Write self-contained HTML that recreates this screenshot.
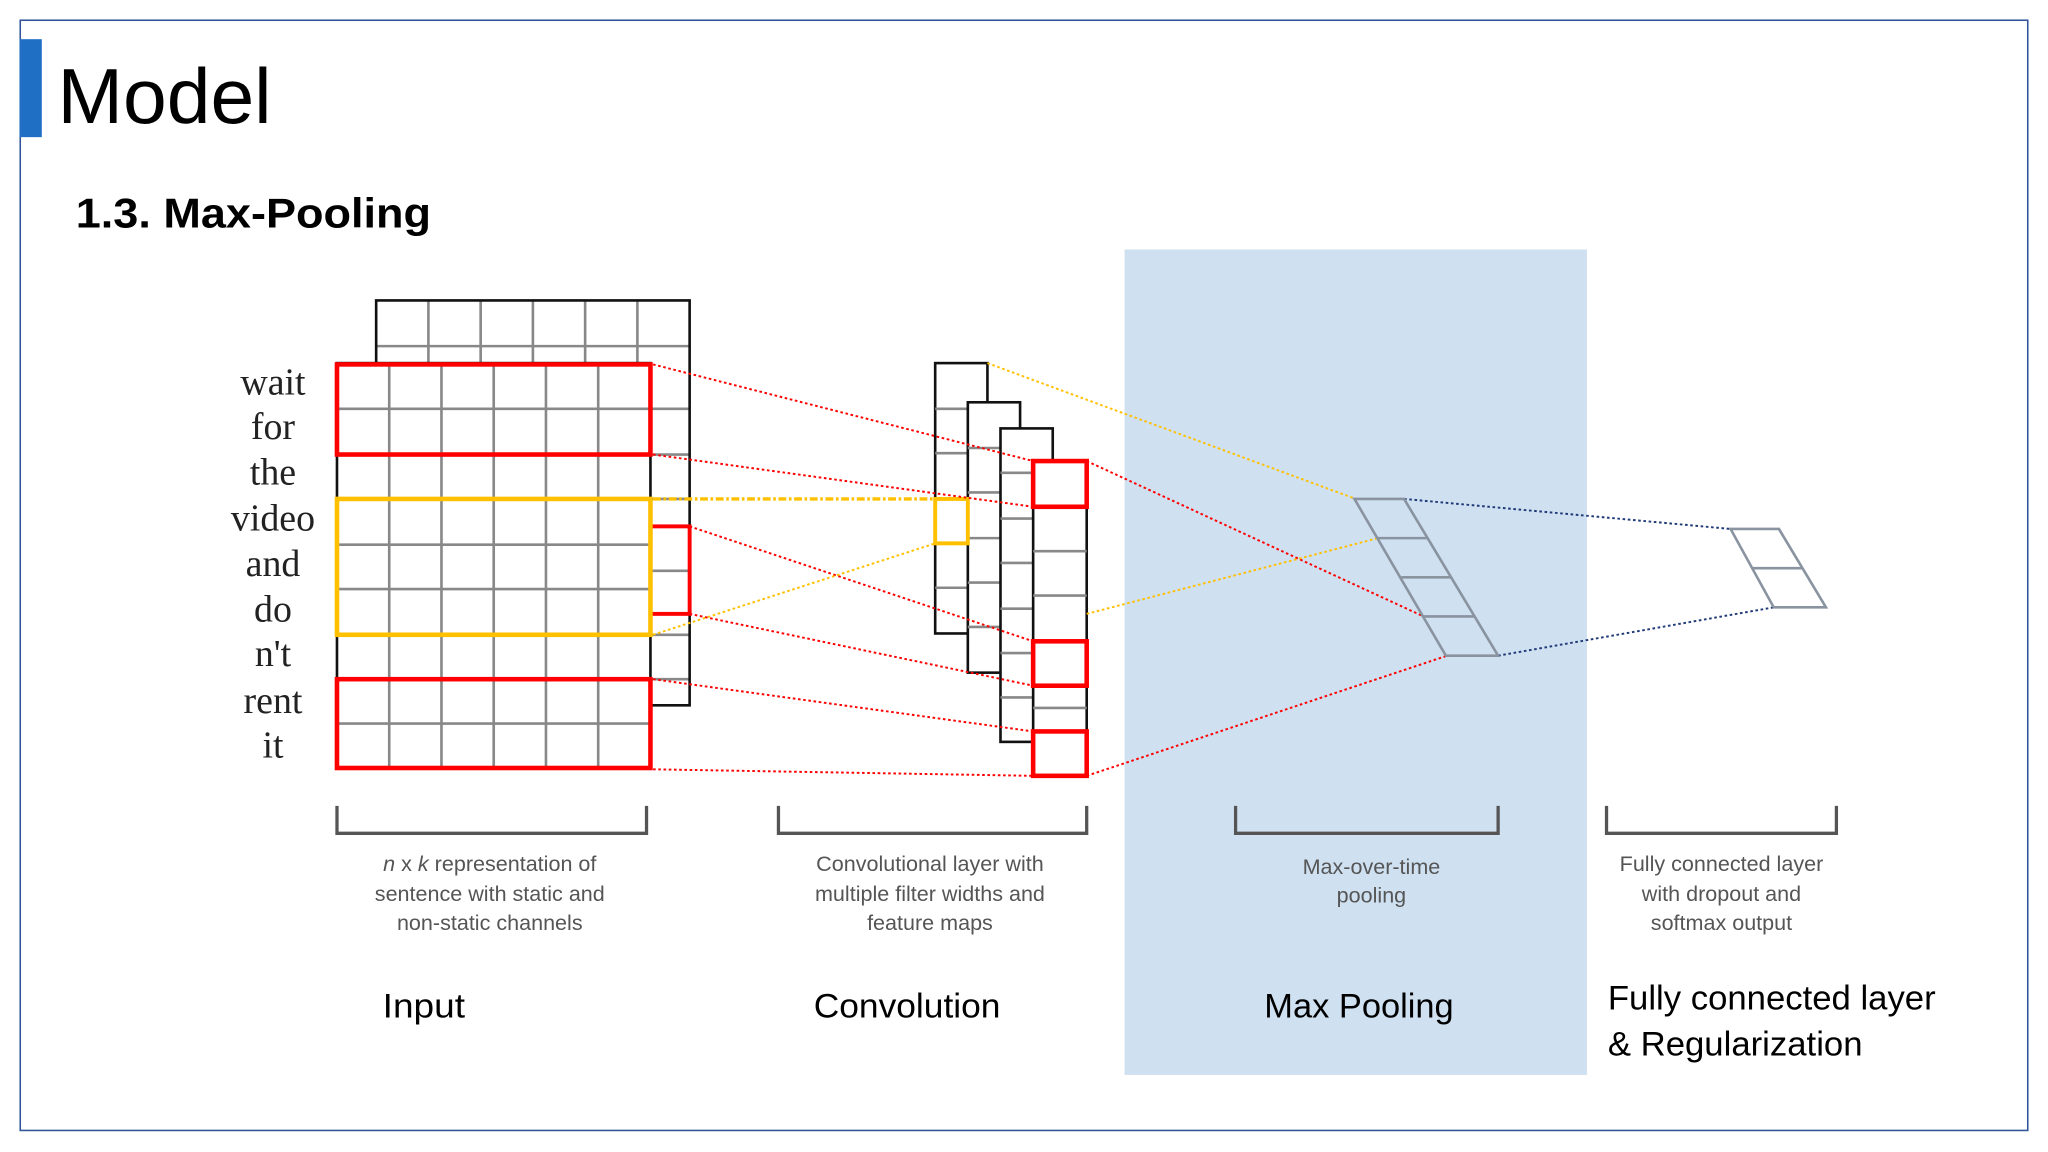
<!DOCTYPE html>
<html><head><meta charset="utf-8"><style>
html,body{margin:0;padding:0;background:#fff;}
svg{display:block;}
</style></head><body>
<svg width="2048" height="1152" viewBox="0 0 1568 882" xmlns="http://www.w3.org/2000/svg">
<rect x="0" y="0" width="1568" height="882" fill="#fff"/>
<rect x="15.5" y="15.5" width="1537" height="850" fill="none" stroke="#2f5597" stroke-width="1.2"/>
<rect x="15" y="30" width="17" height="75" fill="#1f6fc5"/>
<text x="44" y="94" font-family="Liberation Sans, sans-serif" font-size="60" fill="#000" textLength="164" lengthAdjust="spacingAndGlyphs">Model</text>
<text x="58" y="174" font-family="Liberation Sans, sans-serif" font-size="32" font-weight="bold" fill="#000" textLength="272" lengthAdjust="spacingAndGlyphs">1.3. Max-Pooling</text>
<rect x="861" y="191" width="354" height="632" fill="#cfe0f1"/>

<!-- back grid -->
<g stroke="#888" stroke-width="2" fill="none">
  <line x1="328" y1="230" x2="328" y2="278"/><line x1="368" y1="230" x2="368" y2="278"/>
  <line x1="408" y1="230" x2="408" y2="278"/><line x1="448" y1="230" x2="448" y2="278"/>
  <line x1="488" y1="230" x2="488" y2="278"/>
  <line x1="288" y1="265" x2="528" y2="265"/>
  <line x1="498" y1="313" x2="528" y2="313"/><line x1="498" y1="348" x2="528" y2="348"/>
  <line x1="498" y1="382" x2="528" y2="382"/><line x1="498" y1="437" x2="528" y2="437"/>
  <line x1="498" y1="486" x2="528" y2="486"/><line x1="498" y1="520" x2="528" y2="520"/>
</g>
<path d="M288 278 V230 H528 V540 H498" fill="none" stroke="#111" stroke-width="2"/>
<!-- front grid -->
<g stroke="#888" stroke-width="2">
  <line x1="298" y1="278" x2="298" y2="588"/><line x1="338" y1="278" x2="338" y2="588"/>
  <line x1="378" y1="278" x2="378" y2="588"/><line x1="418" y1="278" x2="418" y2="588"/>
  <line x1="458" y1="278" x2="458" y2="588"/>
  <line x1="258" y1="313" x2="498" y2="313"/><line x1="258" y1="417" x2="498" y2="417"/>
  <line x1="258" y1="451" x2="498" y2="451"/><line x1="258" y1="554" x2="498" y2="554"/>
</g>
<rect x="258" y="278" width="240" height="310" fill="none" stroke="#111" stroke-width="2"/>
<rect x="498" y="403" width="30" height="67" fill="none" stroke="#f00" stroke-width="3"/>
<rect x="258" y="279" width="240" height="69" fill="none" stroke="#f00" stroke-width="3.5"/>
<rect x="258" y="520" width="240" height="68" fill="none" stroke="#f00" stroke-width="3.5"/>
<rect x="258" y="382" width="240" height="104" fill="none" stroke="#ffc000" stroke-width="3.5"/>

<!-- words -->
<g font-family="Liberation Serif, serif" font-size="29" fill="#222" text-anchor="middle">
  <text x="209" y="302">wait</text><text x="209" y="336">for</text><text x="209" y="371">the</text>
  <text x="209" y="406">video</text><text x="209" y="441">and</text><text x="209" y="476">do</text>
  <text x="209" y="510">n't</text><text x="209" y="546">rent</text><text x="209" y="580">it</text>
</g>

<!-- conv maps -->
<rect x="716" y="278" width="40" height="207" fill="#fff" stroke="#111" stroke-width="2"/>
<g stroke="#888" stroke-width="2">
  <line x1="716" y1="313" x2="741" y2="313"/><line x1="716" y1="347" x2="741" y2="347"/>
  <line x1="716" y1="450" x2="741" y2="450"/>
</g>
<rect x="741" y="308" width="40" height="207" fill="#fff" stroke="#111" stroke-width="2"/>
<g stroke="#888" stroke-width="2">
  <line x1="741" y1="343" x2="766" y2="343"/><line x1="741" y1="377" x2="766" y2="377"/>
  <line x1="741" y1="412" x2="766" y2="412"/><line x1="741" y1="446" x2="766" y2="446"/>
  <line x1="741" y1="480" x2="766" y2="480"/>
</g>
<rect x="766" y="328" width="40" height="240" fill="#fff" stroke="#111" stroke-width="2"/>
<g stroke="#888" stroke-width="2">
  <line x1="766" y1="362" x2="791" y2="362"/><line x1="766" y1="397" x2="791" y2="397"/>
  <line x1="766" y1="431" x2="791" y2="431"/><line x1="766" y1="466" x2="791" y2="466"/>
  <line x1="766" y1="500" x2="791" y2="500"/><line x1="766" y1="534" x2="791" y2="534"/>
</g>
<rect x="791" y="353" width="41" height="241" fill="#fff" stroke="#111" stroke-width="2"/>
<g stroke="#888" stroke-width="2">
  <line x1="791" y1="422" x2="832" y2="422"/><line x1="791" y1="456" x2="832" y2="456"/>
  <line x1="791" y1="542" x2="832" y2="542"/>
</g>
<rect x="716" y="382" width="25" height="34" fill="none" stroke="#ffc000" stroke-width="3"/>
<g fill="none" stroke="#f00" stroke-width="3.5">
  <rect x="791" y="353" width="41" height="35"/>
  <rect x="791" y="491" width="41" height="34"/>
  <rect x="791" y="560" width="41" height="34"/>
</g>

<!-- dotted connectors -->
<g stroke="#f00" stroke-width="1.5" stroke-dasharray="2,2" fill="none">
  <line x1="500" y1="279" x2="791" y2="353"/>
  <line x1="500" y1="348" x2="791" y2="388"/>
  <line x1="528" y1="403" x2="791" y2="491"/>
  <line x1="528" y1="470" x2="791" y2="525"/>
  <line x1="500" y1="520" x2="791" y2="560"/>
  <line x1="500" y1="589" x2="791" y2="594"/>
  <line x1="832" y1="353" x2="1090" y2="472"/>
  <line x1="832" y1="594" x2="1108" y2="502"/>
</g>
<g stroke="#ffc000" stroke-width="1.5" stroke-dasharray="2,2" fill="none">
  <line x1="500" y1="382" x2="741" y2="382" stroke-width="2.5" stroke-dasharray="6,2,2,2"/>
  <line x1="500" y1="486" x2="716" y2="416"/>
  <line x1="756" y1="278" x2="1038" y2="382"/>
  <line x1="832" y1="470" x2="1055" y2="412"/>
</g>
<g stroke="#203a78" stroke-width="1.5" stroke-dasharray="2,2" fill="none">
  <line x1="1075" y1="382" x2="1325" y2="405"/>
  <line x1="1147" y1="502" x2="1358" y2="465"/>
</g>

<!-- pooling -->
<g stroke="#8a93a0" stroke-width="2" fill="none">
  <path d="M1037 382 H1075 L1147 502 H1107 Z"/>
  <line x1="1055" y1="412" x2="1093" y2="412"/>
  <line x1="1073" y1="442" x2="1111" y2="442"/>
  <line x1="1090" y1="472" x2="1129" y2="472"/>
  <path d="M1325 405 H1362 L1398 465 H1358 Z"/>
  <line x1="1342" y1="435" x2="1380" y2="435"/>
</g>

<!-- brackets -->
<g stroke="#555" stroke-width="2.5" fill="none">
  <path d="M258 617 V638 H495 V617"/>
  <path d="M596 617 V638 H832 V617"/>
  <path d="M946 617 V638 H1147 V617"/>
  <path d="M1230 617 V638 H1406 V617"/>
</g>

<g font-family="Liberation Sans, sans-serif" font-size="16.5" fill="#555" text-anchor="middle">
  <text x="375" y="667"><tspan font-style="italic">n</tspan> x <tspan font-style="italic">k</tspan> representation of</text>
  <text x="375" y="690">sentence with static and</text>
  <text x="375" y="712">non-static channels</text>
  <text x="712" y="667">Convolutional layer with</text>
  <text x="712" y="690">multiple filter widths and</text>
  <text x="712" y="712">feature maps</text>
  <text x="1050" y="669">Max-over-time</text>
  <text x="1050" y="691">pooling</text>
  <text x="1318" y="667">Fully connected layer</text>
  <text x="1318" y="690">with dropout and</text>
  <text x="1318" y="712">softmax output</text>
</g>

<g font-family="Liberation Sans, sans-serif" font-size="26" fill="#000" lengthAdjust="spacingAndGlyphs">
  <text x="293" y="779" textLength="63" lengthAdjust="spacingAndGlyphs">Input</text>
  <text x="623" y="779" textLength="143" lengthAdjust="spacingAndGlyphs">Convolution</text>
  <text x="968" y="779" textLength="145" lengthAdjust="spacingAndGlyphs">Max Pooling</text>
  <text x="1231" y="773" textLength="251" lengthAdjust="spacingAndGlyphs">Fully connected layer</text>
  <text x="1231" y="808" textLength="195" lengthAdjust="spacingAndGlyphs">&amp; Regularization</text>
</g>
</svg>
</body></html>
